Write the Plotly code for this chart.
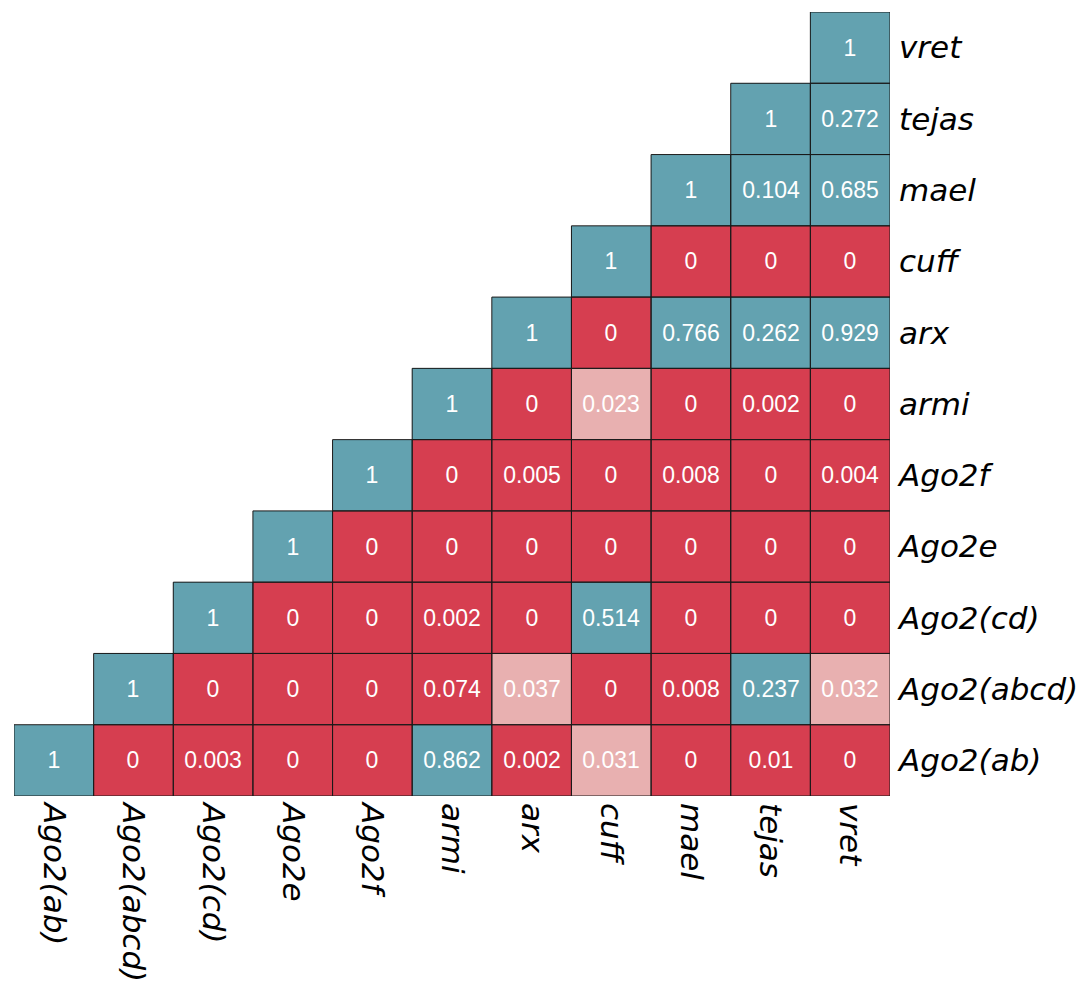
import plotly.graph_objects as go

genes = ["Ago2(ab)", "Ago2(abcd)", "Ago2(cd)", "Ago2e", "Ago2f",
         "armi", "arx", "cuff", "mael", "tejas", "vret"]

# p-values per row (row gene i, columns i..10 in gene order)
p_ago2ab   = [1, 0, 0.003, 0, 0, 0.862, 0.002, 0.031, 0, 0.01, 0]
p_ago2abcd = [1, 0, 0, 0, 0.074, 0.037, 0, 0.008, 0.237, 0.032]
p_ago2cd   = [1, 0, 0, 0.002, 0, 0.514, 0, 0, 0]
p_ago2e    = [1, 0, 0, 0, 0, 0, 0, 0]
p_ago2f    = [1, 0, 0.005, 0, 0.008, 0, 0.004]
p_armi     = [1, 0, 0.023, 0, 0.002, 0]
p_arx      = [1, 0, 0.766, 0.262, 0.929]
p_cuff     = [1, 0, 0, 0]
p_mael     = [1, 0.104, 0.685]
p_tejas    = [1, 0.272]
p_vret     = [1]

# colour class: 0 = not significant (teal), 1 = weak (pink), 2 = strong (red)
c_ago2ab   = [0, 2, 2, 2, 2, 0, 2, 1, 2, 2, 2]
c_ago2abcd = [0, 2, 2, 2, 2, 1, 2, 2, 0, 1]
c_ago2cd   = [0, 2, 2, 2, 2, 0, 2, 2, 2]
c_ago2e    = [0, 2, 2, 2, 2, 2, 2, 2]
c_ago2f    = [0, 2, 2, 2, 2, 2, 2]
c_armi     = [0, 2, 1, 2, 2, 2]
c_arx      = [0, 2, 0, 0, 0]
c_cuff     = [0, 2, 2, 2]
c_mael     = [0, 0, 0]
c_tejas    = [0, 0]
c_vret     = [0]

p_rows = [p_ago2ab, p_ago2abcd, p_ago2cd, p_ago2e, p_ago2f, p_armi,
          p_arx, p_cuff, p_mael, p_tejas, p_vret]
c_rows = [c_ago2ab, c_ago2abcd, c_ago2cd, c_ago2e, c_ago2f, c_armi,
          c_arx, c_cuff, c_mael, c_tejas, c_vret]

TEAL = "#63a2b0"
PINK = "#e8b0b0"
RED = "#d63e50"

n = len(genes)
z = [[None] * n for _ in range(n)]
txt = [[""] * n for _ in range(n)]
for i in range(n):
    for k, (pv, cv) in enumerate(zip(p_rows[i], c_rows[i])):
        j = i + k
        z[i][j] = cv
        txt[i][j] = f"{pv:g}"

fig = go.Figure()
fig.add_trace(go.Heatmap(
    z=z, x=list(range(n)), y=list(range(n)),
    text=txt, texttemplate="%{text}",
    textfont=dict(family="Liberation Sans, Arial", size=23, color="white"),
    colorscale=[[0, TEAL], [0.333, TEAL], [0.333, PINK], [0.667, PINK],
                [0.667, RED], [1, RED]],
    zmin=0, zmax=2, showscale=False, hoverongaps=False,
))

shapes = []
for i in range(n):
    for k in range(len(p_rows[i])):
        j = i + k
        shapes.append(dict(type="rect", xref="x", yref="y",
                           x0=j - 0.5, x1=j + 0.5, y0=i - 0.5, y1=i + 0.5,
                           line=dict(color="#1a1a1a", width=1),
                           fillcolor="rgba(0,0,0,0)"))

label_font = dict(family="DejaVu Sans", size=31, color="black", style="italic")

fig.update_layout(
    width=1091, height=985,
    margin=dict(l=14, r=201, t=12, b=189, autoexpand=False),
    paper_bgcolor="white", plot_bgcolor="white",
    shapes=shapes,
    xaxis=dict(range=[-0.5, n - 0.5], tickvals=list(range(n)), ticktext=genes,
               tickangle=90, tickfont=label_font, showgrid=False, automargin=False,
               zeroline=False, showline=False, ticks="", ticklabelstandoff=6),
    yaxis=dict(range=[-0.5, n - 0.5], tickvals=list(range(n)), ticktext=genes,
               side="right", tickfont=label_font, showgrid=False, automargin=False,
               zeroline=False, showline=False, ticks="", ticklabelstandoff=8),
)

fig.write_html("out.html")
